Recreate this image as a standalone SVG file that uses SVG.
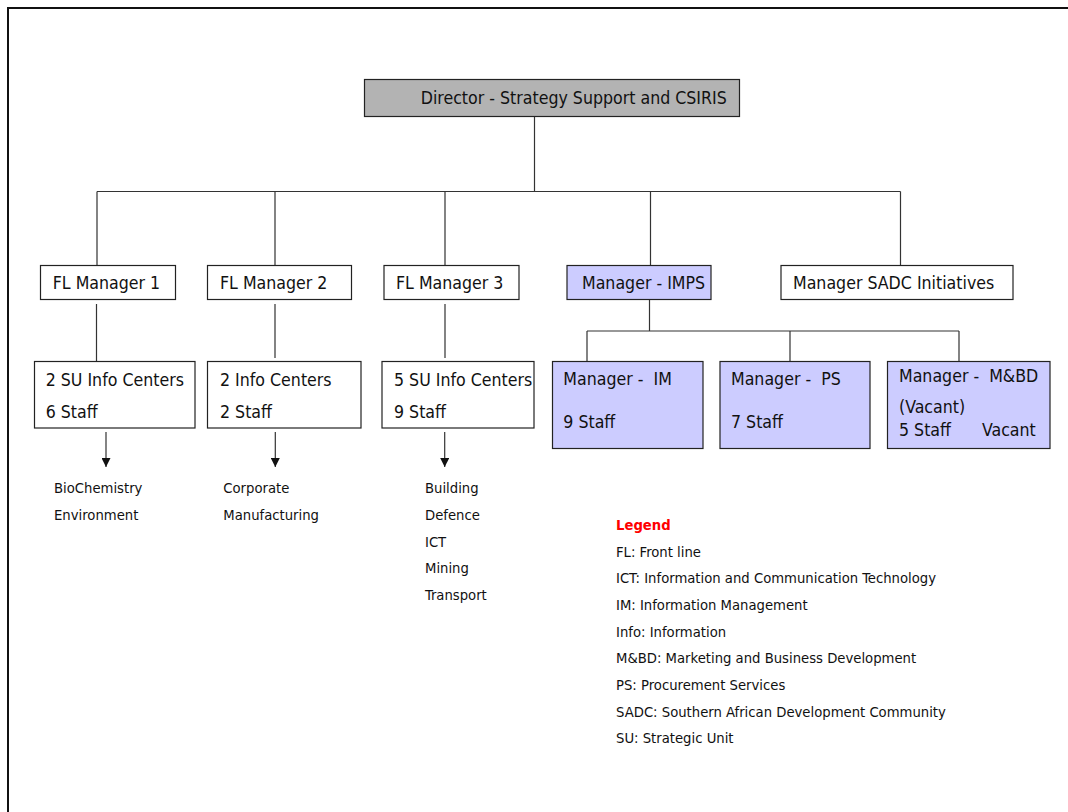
<svg xmlns="http://www.w3.org/2000/svg" width="1068" height="812" viewBox="0 0 1068 812">
<style>
.box{fill:#ffffff;stroke:#222;stroke-width:1.2}
.grey{fill:#b3b3b3}
.blue{fill:#ccccff}
.t{font-family:"DejaVu Sans Condensed","DejaVu Sans",sans-serif;font-stretch:condensed;font-size:17.6px;fill:#111;white-space:pre}
.s{font-family:"DejaVu Sans Condensed","DejaVu Sans",sans-serif;font-stretch:condensed;font-size:14.7px;fill:#111}
.lg{font-weight:bold;fill:#ff0000}
.c{stroke:#333;stroke-width:1.2;fill:none}
</style>
<defs>
<marker id="arr" viewBox="0 0 10 10" refX="10" refY="5" markerWidth="9" markerHeight="9" markerUnits="userSpaceOnUse" orient="auto">
<path d="M0,0 L10,5 L0,10 z" fill="#111"/>
</marker>
</defs>
<rect width="1068" height="812" fill="#ffffff"/>
<path d="M8,820 V8 H1080" fill="none" stroke="#111" stroke-width="2"/>
<g id="connectors">
<path class="c" d="M534.5,116.5 V191.5"/>
<path class="c" d="M97,191.5 H900.5"/>
<path class="c" d="M97,191.5 V265.5 M275,191.5 V265.5 M445,191.5 V265.5 M650.5,191.5 V265.5 M900.5,191.5 V265.5"/>
<path class="c" d="M96.5,304 V367 M275,304 V358 M445,304 V358"/>
<path class="c" d="M649.5,299.5 V331 M587,331 H959 M587,331 V361.5 M790,331 V361.5 M959,331 V361.5"/>
<path class="c" d="M106,432 V467" marker-end="url(#arr)"/>
<path class="c" d="M275.3,432 V467" marker-end="url(#arr)"/>
<path class="c" d="M444.7,432 V467" marker-end="url(#arr)"/>
</g>
<g id="director"><rect class="box grey" x="364.5" y="79.5" width="375" height="37"/><text class="t" x="420.7" y="103.5">Director - Strategy Support and CSIRIS</text></g>
<g id="fl1"><rect class="box" x="40.5" y="265.5" width="135" height="34"/><text class="t" x="52.7" y="289">FL Manager 1</text></g>
<g id="fl2"><rect class="box" x="207.5" y="265.5" width="144" height="34"/><text class="t" x="220" y="289">FL Manager 2</text></g>
<g id="fl3"><rect class="box" x="384" y="265.5" width="135" height="34"/><text class="t" x="396" y="289">FL Manager 3</text></g>
<g id="imps"><rect class="box blue" x="567" y="265.5" width="144" height="34"/><text class="t" x="582" y="289">Manager - IMPS</text></g>
<g id="sadc"><rect class="box" x="781" y="265.5" width="232" height="34"/><text class="t" x="793" y="289">Manager SADC Initiatives</text></g>
<g id="su1"><rect class="box" x="34.5" y="361.5" width="160.5" height="66.5"/><text class="t" x="45.7" y="386">2 SU Info Centers</text><text class="t" x="45.7" y="418">6 Staff</text></g>
<g id="su2"><rect class="box" x="207.5" y="361.5" width="153.5" height="66.5"/><text class="t" x="220" y="386">2 Info Centers</text><text class="t" x="220" y="418">2 Staff</text></g>
<g id="su3"><rect class="box" x="382" y="361.5" width="152" height="66.5"/><text class="t" x="394" y="386">5 SU Info Centers</text><text class="t" x="394" y="418">9 Staff</text></g>
<g id="im"><rect class="box blue" x="552.5" y="361.5" width="150.5" height="87"/><text class="t" x="563.3" y="385">Manager -  IM</text><text class="t" x="563.3" y="428">9 Staff</text></g>
<g id="ps"><rect class="box blue" x="720" y="361.5" width="150" height="87"/><text class="t" x="731" y="385">Manager -  PS</text><text class="t" x="731" y="428">7 Staff</text></g>
<g id="mbd"><rect class="box blue" x="887.5" y="361.5" width="162.5" height="87"/><text class="t" x="899" y="382">Manager -  M&amp;BD</text><text class="t" x="899" y="413">(Vacant)</text><text class="t" x="899" y="436">5 Staff</text><text class="t" x="982" y="436">Vacant</text></g>
<g id="units1"><text class="s" x="54" y="493.3">BioChemistry</text><text class="s" x="54" y="520">Environment</text></g>
<g id="units2"><text class="s" x="223.3" y="493.3">Corporate</text><text class="s" x="223.3" y="520">Manufacturing</text></g>
<g id="units3"><text class="s" x="425" y="493.3">Building</text><text class="s" x="425" y="520">Defence</text><text class="s" x="425" y="546.7">ICT</text><text class="s" x="425" y="573.3">Mining</text><text class="s" x="425" y="600">Transport</text></g>
<g id="legend">
<text class="s lg" x="616" y="530">Legend</text>
<text class="s" x="616" y="556.7">FL: Front line</text>
<text class="s" x="616" y="583.3">ICT: Information and Communication Technology</text>
<text class="s" x="616" y="610">IM: Information Management</text>
<text class="s" x="616" y="636.7">Info: Information</text>
<text class="s" x="616" y="663.3">M&amp;BD: Marketing and Business Development</text>
<text class="s" x="616" y="690">PS: Procurement Services</text>
<text class="s" x="616" y="716.7">SADC: Southern African Development Community</text>
<text class="s" x="616" y="743.3">SU: Strategic Unit</text>
</g>
</svg>
